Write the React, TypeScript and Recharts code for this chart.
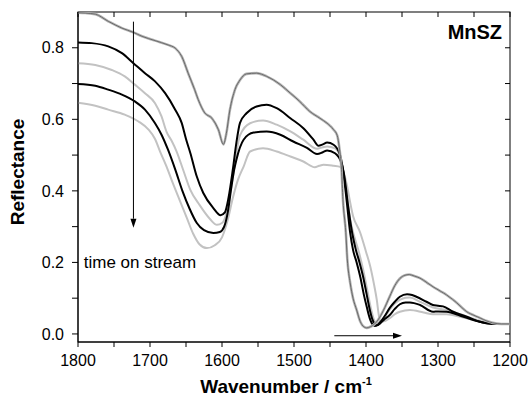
import { LineChart, Line, XAxis, YAxis, ReferenceLine, ReferenceDot, ReferenceArea } from 'recharts';

// DRIFTS-Reflektanz von MnSZ, fünf Spektren mit zunehmender Zeit im Strom.
// Werte als [Wellenzahl, Reflektanz].

const WAVENUMBER_TICKS = [1800, 1750, 1700, 1650, 1600, 1550, 1500, 1450, 1400, 1350, 1300, 1250, 1200];
const REFLECTANCE_TICKS = [0, 0.1, 0.2, 0.3, 0.4, 0.5, 0.6, 0.7, 0.8];

const SPEC_1 = [
  [1800, 0.898], [1790, 0.897], [1776, 0.894], [1758, 0.874], [1739, 0.855], [1723, 0.843], [1711, 0.832],
  [1693, 0.82], [1675, 0.808], [1665, 0.799], [1656, 0.776], [1647, 0.729], [1638, 0.683], [1633, 0.655],
  [1624, 0.618], [1614, 0.603], [1605, 0.571], [1598, 0.53], [1594, 0.56], [1589, 0.627], [1582, 0.683],
  [1575, 0.71], [1566, 0.727], [1552, 0.729], [1538, 0.72], [1519, 0.697], [1505, 0.673], [1492, 0.65],
  [1478, 0.622], [1464, 0.603], [1454, 0.589], [1445, 0.571], [1440, 0.555], [1437, 0.52], [1434, 0.46],
  [1432, 0.375], [1428, 0.283], [1426, 0.21], [1422, 0.143], [1418, 0.1], [1413, 0.067], [1408, 0.035],
  [1403, 0.02], [1399, 0.017], [1394, 0.02], [1388, 0.028], [1383, 0.04], [1376, 0.065], [1367, 0.105],
  [1360, 0.135], [1353, 0.155], [1346, 0.164], [1340, 0.166], [1333, 0.162], [1325, 0.156], [1315, 0.143],
  [1307, 0.132], [1297, 0.12], [1288, 0.109], [1280, 0.097], [1274, 0.087], [1267, 0.074], [1260, 0.062],
  [1250, 0.052], [1242, 0.045], [1232, 0.036], [1224, 0.031], [1212, 0.028], [1200, 0.028],
];

const SPEC_2 = [
  [1800, 0.815], [1781, 0.813], [1758, 0.804], [1739, 0.785], [1723, 0.757], [1707, 0.729], [1693, 0.706],
  [1679, 0.673], [1665, 0.627], [1656, 0.59], [1650, 0.545], [1644, 0.506], [1635, 0.44], [1626, 0.394],
  [1612, 0.352], [1602, 0.332], [1596, 0.34], [1591, 0.38], [1585, 0.459], [1580, 0.535], [1575, 0.59],
  [1566, 0.617], [1552, 0.636], [1538, 0.641], [1524, 0.631], [1505, 0.603], [1487, 0.575], [1473, 0.543],
  [1466, 0.526], [1460, 0.53], [1454, 0.535], [1445, 0.529], [1436, 0.5], [1432, 0.459], [1427, 0.375],
  [1422, 0.283], [1418, 0.235], [1413, 0.2], [1408, 0.16], [1403, 0.11], [1399, 0.076], [1395, 0.045],
  [1392, 0.03], [1388, 0.022], [1384, 0.025], [1379, 0.036], [1374, 0.05], [1367, 0.073], [1360, 0.09],
  [1353, 0.104], [1343, 0.111], [1336, 0.109], [1330, 0.104], [1316, 0.09], [1307, 0.081], [1300, 0.079],
  [1293, 0.077], [1279, 0.062], [1260, 0.048], [1242, 0.034], [1223, 0.028], [1200, 0.028],
];

const SPEC_3 = [
  [1800, 0.757], [1776, 0.752], [1753, 0.738], [1735, 0.72], [1721, 0.697], [1707, 0.673], [1693, 0.645],
  [1684, 0.608], [1677, 0.565], [1670, 0.54], [1663, 0.51], [1654, 0.459], [1644, 0.403], [1631, 0.36],
  [1617, 0.322], [1607, 0.305], [1600, 0.31], [1595, 0.33], [1590, 0.38], [1584, 0.45], [1578, 0.53],
  [1575, 0.555], [1561, 0.589], [1543, 0.597], [1524, 0.585], [1505, 0.566], [1487, 0.543], [1468, 0.518],
  [1460, 0.522], [1454, 0.524], [1443, 0.519], [1436, 0.495], [1432, 0.46], [1428, 0.41], [1422, 0.32],
  [1416, 0.27], [1410, 0.23], [1404, 0.18], [1398, 0.12], [1393, 0.07], [1389, 0.04], [1385, 0.03],
  [1380, 0.032], [1373, 0.05], [1367, 0.068], [1360, 0.085], [1353, 0.095], [1345, 0.101], [1339, 0.102],
  [1325, 0.09], [1307, 0.074], [1288, 0.067], [1269, 0.055], [1250, 0.042], [1235, 0.033], [1220, 0.028],
  [1200, 0.028],
];

const SPEC_4 = [
  [1800, 0.699], [1776, 0.694], [1758, 0.683], [1739, 0.669], [1721, 0.65], [1707, 0.627], [1693, 0.589],
  [1684, 0.557], [1675, 0.515], [1665, 0.46], [1655, 0.4], [1645, 0.35], [1635, 0.31], [1625, 0.29],
  [1612, 0.282], [1603, 0.285], [1597, 0.3], [1592, 0.34], [1587, 0.41], [1583, 0.46], [1580, 0.487],
  [1570, 0.543], [1556, 0.563], [1538, 0.566], [1519, 0.557], [1501, 0.538], [1482, 0.52], [1468, 0.503],
  [1460, 0.508], [1454, 0.513], [1443, 0.505], [1434, 0.477], [1430, 0.44], [1425, 0.36], [1419, 0.28],
  [1414, 0.235], [1409, 0.2], [1404, 0.16], [1399, 0.11], [1395, 0.07], [1391, 0.04], [1388, 0.028],
  [1385, 0.024], [1380, 0.03], [1375, 0.04], [1367, 0.053], [1360, 0.07], [1353, 0.083], [1345, 0.088],
  [1339, 0.088], [1325, 0.081], [1307, 0.062], [1300, 0.063], [1288, 0.062], [1269, 0.051], [1251, 0.039],
  [1235, 0.031], [1220, 0.028], [1200, 0.028],
];

const SPEC_5 = [
  [1800, 0.646], [1776, 0.638], [1758, 0.627], [1735, 0.613], [1716, 0.594], [1702, 0.571], [1693, 0.545],
  [1686, 0.51], [1677, 0.468], [1668, 0.42], [1658, 0.37], [1649, 0.325], [1640, 0.28], [1631, 0.25],
  [1621, 0.24], [1610, 0.248], [1600, 0.27], [1592, 0.319], [1585, 0.38], [1578, 0.43], [1570, 0.468],
  [1561, 0.51], [1543, 0.519], [1524, 0.51], [1505, 0.496], [1487, 0.482], [1471, 0.466], [1465, 0.47],
  [1459, 0.473], [1445, 0.47], [1436, 0.467], [1430, 0.445], [1427, 0.42], [1418, 0.33], [1408, 0.283],
  [1400, 0.23], [1394, 0.188], [1389, 0.14], [1385, 0.095], [1382, 0.05], [1380, 0.035], [1376, 0.035],
  [1367, 0.044], [1360, 0.055], [1353, 0.062], [1339, 0.067], [1320, 0.06], [1307, 0.055], [1288, 0.055],
  [1269, 0.048], [1251, 0.039], [1235, 0.032], [1220, 0.028], [1200, 0.028],
];

const FONT = '"Liberation Sans", Arial, sans-serif';
const LIGHT = '#c2c2c2';
const X_DOMAIN = [1200, 1800];
const Y_DOMAIN = [-0.0225, 0.9];

const toRows = (pairs: number[][]) => pairs.map(([x, y]) => ({ x, y }));

// hellgrau zuerst, schwarz darüber, oberstes Spektrum zuletzt (grau mit dunkler Mitte)
const SERIES = [
  { key: 's5', data: SPEC_5, color: LIGHT, width: 2 },
  { key: 's3', data: SPEC_3, color: LIGHT, width: 2 },
  { key: 's4', data: SPEC_4, color: '#000', width: 2 },
  { key: 's2', data: SPEC_2, color: '#000', width: 2 },
  { key: 's1a', data: SPEC_1, color: '#b4b4b4', width: 2.6 },
  { key: 's1b', data: SPEC_1, color: '#6a6a6a', width: 1 },
];

function Arrow(p: any) {
  const { x1, y1, x2, y2 } = p;
  const len = Math.hypot(x2 - x1, y2 - y1) || 1;
  const ux = (x2 - x1) / len;
  const uy = (y2 - y1) / len;
  const hl = 9;
  const hw = 3;
  const bx = x2 - ux * hl;
  const by = y2 - uy * hl;
  return (
    <g>
      <line x1={x1} y1={y1} x2={bx} y2={by} stroke="#000" strokeWidth={1} />
      <polygon points={`${x2},${y2} ${bx - uy * hw},${by + ux * hw} ${bx + uy * hw},${by - ux * hw}`} fill="#000" />
    </g>
  );
}

// Rahmen mit innenliegenden Strichen oben und rechts (Position aus dem Achsenbereich)
function Frame(p: any) {
  const { x, y, width, height } = p;
  const [x0, x1] = X_DOMAIN;
  const [y0, y1] = Y_DOMAIN;
  const px = (t: number) => x + ((x1 - t) / (x1 - x0)) * width;
  const py = (v: number) => y + ((y1 - v) / (y1 - y0)) * height;
  return (
    <g>
      <rect x={x} y={y} width={width} height={height} fill="none" stroke="#000" strokeWidth={1} />
      {WAVENUMBER_TICKS.map((t) => (
        <line key={`t${t}`} x1={px(t)} y1={y} x2={px(t)} y2={y + 5} stroke="#000" strokeWidth={1} />
      ))}
      {REFLECTANCE_TICKS.map((v) => (
        <line key={`r${v}`} x1={x + width - 5} y1={py(v)} x2={x + width} y2={py(v)} stroke="#000" strokeWidth={1} />
      ))}
    </g>
  );
}

const xTick = (v: number) => (v % 100 === 0 ? String(v) : '');
const yTick = (v: number) => (Math.round(v * 10) % 2 === 0 ? v.toFixed(1) : '');
const AXIS_LINE = { stroke: '#000', strokeWidth: 1 };
const TICK_LINE = { stroke: '#000', strokeWidth: 1 };

export default function App() {
  return (
    <div style={{ position: 'absolute', left: 0, top: 0, background: '#fff' }}>
      <LineChart width={531} height={400} margin={{ top: 12, right: 21, bottom: 28, left: 18 }}>
        <XAxis
          dataKey="x"
          type="number"
          domain={X_DOMAIN}
          reversed
          allowDataOverflow
          ticks={WAVENUMBER_TICKS}
          tickFormatter={xTick}
          interval={0}
          height={30}
          tickSize={5}
          tickMargin={8}
          axisLine={AXIS_LINE}
          tickLine={TICK_LINE}
          tick={{ fill: '#000', fontSize: 16, fontFamily: FONT }}
          label={(p: any) => {
            const vb = p.viewBox;
            return (
              <text x={vb.x + vb.width / 2 - 8} y={vb.y + vb.height + 21} textAnchor="middle" fontFamily={FONT} fontWeight="bold" fontSize={19} fill="#000">
                <tspan>Wavenumber / cm</tspan>
                <tspan dy={-8} fontSize={11}>-1</tspan>
              </text>
            );
          }}
        />
        <YAxis
          type="number"
          domain={Y_DOMAIN}
          allowDataOverflow
          ticks={REFLECTANCE_TICKS}
          tickFormatter={yTick}
          interval={0}
          width={60}
          tickSize={6}
          tickMargin={8}
          axisLine={AXIS_LINE}
          tickLine={TICK_LINE}
          tick={{ fill: '#000', fontSize: 16, fontFamily: FONT }}
          label={(p: any) => {
            const vb = p.viewBox;
            const cx = vb.x - 1;
            const cy = vb.y + vb.height / 2 - 5;
            return (
              <text x={cx} y={cy} transform={`rotate(-90 ${cx} ${cy})`} textAnchor="middle" dominantBaseline="central" fontFamily={FONT} fontWeight="bold" fontSize={19} fill="#000">
                Reflectance
              </text>
            );
          }}
        />
        <ReferenceArea
          x1={X_DOMAIN[1]}
          x2={X_DOMAIN[0]}
          y1={Y_DOMAIN[0]}
          y2={Y_DOMAIN[1]}
          ifOverflow="visible"
          shape={Frame}
        />
        {SERIES.map((s) => (
          <Line
            key={s.key}
            data={toRows(s.data)}
            dataKey="y"
            type="monotone"
            stroke={s.color}
            strokeWidth={s.width}
            dot={false}
            activeDot={false}
            isAnimationActive={false}
          />
        ))}
        <ReferenceLine segment={[{ x: 1723, y: 0.873 }, { x: 1723, y: 0.297 }]} shape={Arrow} />
        <ReferenceLine segment={[{ x: 1444, y: -0.005 }, { x: 1350, y: -0.005 }]} shape={Arrow} />
        <ReferenceDot
          x={1792}
          y={0.2}
          r={1}
          shape={(p: any) => (
            <text x={p.cx} y={p.cy} dominantBaseline="central" fontFamily={FONT} fontSize={17} fill="#000">
              time on stream
            </text>
          )}
        />
        <ReferenceDot
          x={1211}
          y={0.845}
          r={1}
          shape={(p: any) => (
            <text x={p.cx} y={p.cy} textAnchor="end" dominantBaseline="central" fontFamily={FONT} fontWeight="bold" fontSize={20} fill="#000">
              MnSZ
            </text>
          )}
        />
      </LineChart>
    </div>
  );
}
